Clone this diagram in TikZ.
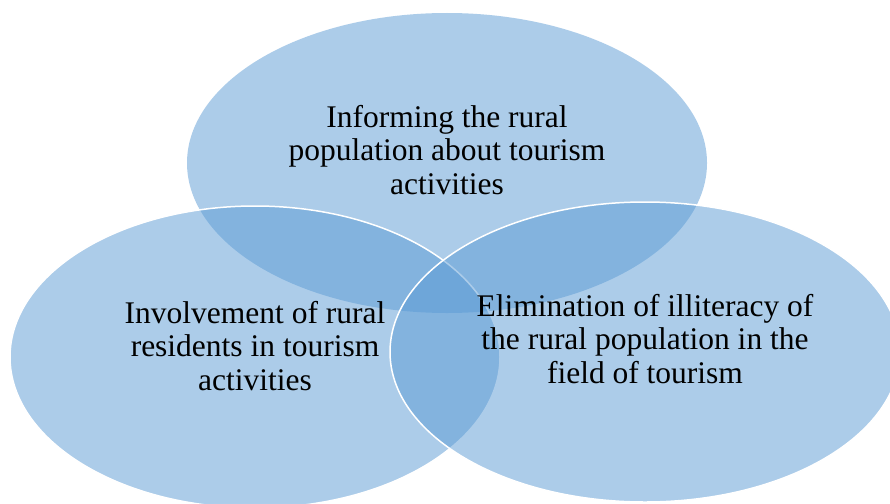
\documentclass[tikz,border=0pt]{standalone}
\usepackage{fontspec}
\setmainfont{Liberation Serif}
\usetikzlibrary{shapes.geometric}
\definecolor{venn}{HTML}{5B9BD5}
\tikzset{
  vennset/.style={ellipse, fill=venn, fill opacity=0.5, inner sep=0pt},
  vennline/.style={draw=white, line width=1.5pt},
  label/.style={align=center, text=black, inner sep=0pt,
    font=\fontsize{31.5}{33.5}\selectfont}
}
\begin{document}
\begin{tikzpicture}[x=1pt,y=-1pt]
\useasboundingbox[fill=white] (0,0) rectangle (890,503);
\node[vennset, minimum width=520pt, minimum height=300pt] (top) at (447,163) {};
\node[vennset, vennline, minimum width=490pt, minimum height=302pt] (left) at (255,357) {};
\node[vennset, vennline, minimum width=510pt, minimum height=300pt] (right) at (645,352) {};
\node[label] (ttop) at (447,150) {Informing the rural\\population about tourism\\activities};
\node[label] (tleft) at (255,346) {Involvement of rural\\residents in tourism\\activities};
\node[label] (tright) at (645,339) {Elimination of illiteracy of\\the rural population in the\\field of tourism};
\end{tikzpicture}
\end{document}
